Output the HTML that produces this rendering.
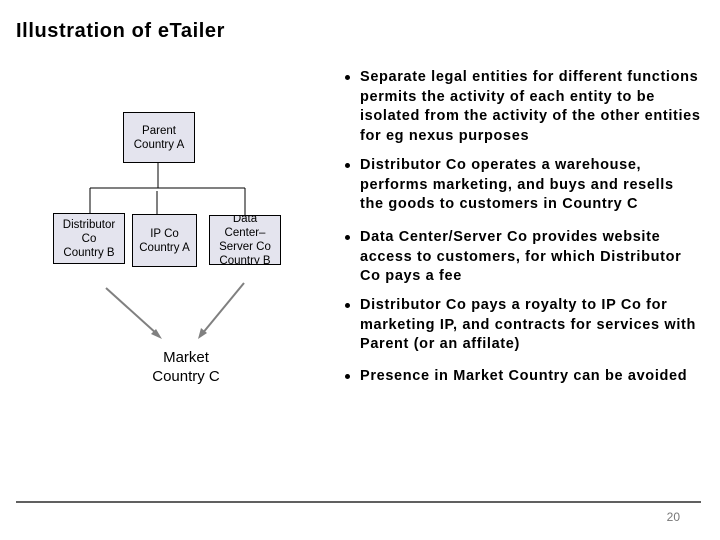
<!DOCTYPE html>
<html><head><meta charset="utf-8"><style>
body{margin:0;width:720px;height:540px;background:#fff;position:relative;overflow:hidden;font-family:"Liberation Sans",Arial,sans-serif;}
.t{position:absolute;left:16px;top:20px;font-size:20px;font-weight:bold;color:#000;letter-spacing:0.6px;}
.b{position:absolute;left:345px;width:375px;font-size:14.5px;font-weight:bold;line-height:19.6px;color:#000;letter-spacing:0.65px;white-space:nowrap;}
.b p{margin:0;padding-left:15px;position:relative;}
.b p:before{content:"";position:absolute;left:0;top:7px;width:5px;height:5px;border-radius:50%;background:#000;}
.box{position:absolute;background:#e4e4ee;border:1px solid #000;box-sizing:border-box;font-size:11.5px;line-height:14px;text-align:center;display:flex;align-items:center;justify-content:center;color:#000;}
</style></head><body>
<div class="t">Illustration of eTailer</div>
<svg width="720" height="540" style="position:absolute;left:0;top:0">
<g stroke="#000" stroke-width="1" fill="none">
<line x1="158" y1="162" x2="158" y2="188"/>
<line x1="90" y1="188" x2="245" y2="188"/>
<line x1="90" y1="188" x2="90" y2="213"/>
<line x1="157" y1="191" x2="157" y2="214"/>
<line x1="245" y1="188" x2="245" y2="215"/>
<line x1="16" y1="502" x2="701" y2="502" stroke-width="1.2"/>
</g>
<g stroke="#808080" stroke-width="2" fill="#808080">
<line x1="106" y1="288" x2="157" y2="334"/>
<polygon points="162,339 151,334 156,329" stroke="none"/>
<line x1="244" y1="283" x2="202" y2="334"/>
<polygon points="198,339 201,328 207,333" stroke="none"/>
</g>
<text x="680" y="521" font-size="12" fill="#777" text-anchor="end" font-family="Liberation Sans, Arial, sans-serif">20</text>
</svg>
<div class="box" style="left:123px;top:112px;width:72px;height:51px">Parent<br>Country A</div>
<div class="box" style="left:53px;top:213px;width:72px;height:51px">Distributor<br>Co<br>Country B</div>
<div class="box" style="left:132px;top:214px;width:65px;height:53px">IP Co<br>Country A</div>
<div class="box" style="left:209px;top:215px;width:72px;height:50px;overflow:hidden;align-items:center"><div>Data<br>Center–<br>Server Co<br>Country B</div></div>
<div style="position:absolute;left:136px;top:348px;width:100px;text-align:center;font-size:15px;line-height:19px">Market<br>Country C</div>
<div class="b" style="top:68px"><p>Separate legal entities for different functions<br>permits the activity of each entity to be<br>isolated from the activity of the other entities<br>for eg nexus purposes</p></div>
<div class="b" style="top:156px"><p>Distributor Co operates a warehouse,<br>performs marketing, and buys and resells<br>the goods to customers in Country C</p></div>
<div class="b" style="top:228px"><p>Data Center/Server Co provides website<br>access to customers, for which Distributor<br>Co pays a fee</p></div>
<div class="b" style="top:296px"><p>Distributor Co pays a royalty to IP Co for<br>marketing IP, and contracts for services with<br>Parent (or an affilate)</p></div>
<div class="b" style="top:367px"><p>Presence in Market Country can be avoided</p></div>
</body></html>
